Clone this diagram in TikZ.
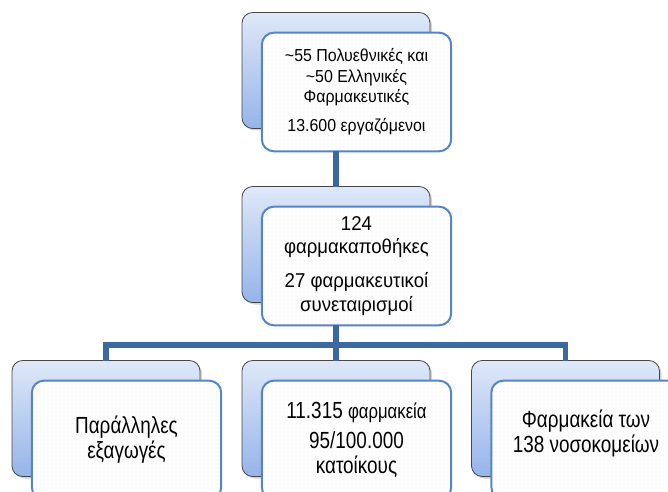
\documentclass[tikz,border=0pt]{standalone}
\usepackage{fontspec}
\setmainfont{Liberation Sans}
\newfontfamily\topfont[FakeStretch=0.92]{Liberation Sans}
\newfontfamily\midfont[FakeStretch=0.93]{Liberation Sans}
\newfontfamily\lowfont[FakeStretch=0.81]{Liberation Sans}
\usepackage{xcolor}
\definecolor{boxtop}{RGB}{222,232,248}
\definecolor{boxbottom}{RGB}{150,180,234}
\definecolor{boxedge}{RGB}{70,70,70}
\definecolor{frontedge}{RGB}{86,132,196}
\definecolor{linkblue}{RGB}{60,104,162}
\usetikzlibrary{positioning, shadows, patterns}

\begin{document}
\begin{tikzpicture}[x=0.75pt, y=-0.75pt,
  backbox/.style={rectangle, draw=boxedge, line width=0.6pt, rounded corners=8pt, top color=boxtop, bottom color=boxbottom, minimum width=141pt, minimum height=87pt, outer sep=0pt, drop shadow={shadow xshift=1.5pt, shadow yshift=-1.5pt, opacity=0.35}},
  frontbox/.style={rectangle, draw=frontedge, line width=1.5pt, rounded corners=9pt, preaction={fill=white}, pattern=dots, pattern color=black!7, minimum width=142pt, minimum height=89pt, outer sep=0pt, align=center, inner sep=2pt},
  link/.style={draw=linkblue, line width=3.8pt},
  small/.style={font=\topfont\fontsize{13}{15.4}\selectfont},
  mid/.style={font=\midfont\fontsize{15}{17.5}\selectfont},
  big/.style={font=\lowfont\fontsize{17.5}{18.75}\selectfont}
]
\useasboundingbox (0,0) rectangle (668,492);
\clip (0,0) rectangle (668,492);

% back boxes
\node[backbox] (mfgbg) at (336,70.5) {};
\node[backbox] (whsbg) at (336,244.5) {};
\node[backbox] (parbg) at (106,418.5) {};
\node[backbox] (phmbg) at (336,418.5) {};
\node[backbox] (hspbg) at (565.5,418.5) {};

% front boxes
\node[frontbox, small] (mfg) at ([shift={(20.5,21.5)}]mfgbg) {\textasciitilde55 Πολυεθνικές και\\ \textasciitilde50 Ελληνικές\\ Φαρμακευτικές\\[6pt] 13.600 εργαζόμενοι};
\node[frontbox, mid] (whs) at ([shift={(20.5,21.5)}]whsbg) {124\\ φαρμακαποθήκες\\[8pt] 27 φαρμακευτικοί\\ συνεταιρισμοί};
\node[frontbox, big] (par) at ([shift={(20.5,21.5)}]parbg) {Παράλληλες\\ εξαγωγές};
\node[frontbox, big] (phm) at ([shift={(20.5,21.5)}]phmbg) {11.315 {\fontsize{15.5}{18}\selectfont φαρμακεία}\\[4pt] 95/100.000\\ κατοίκους};
\node[frontbox, big] (hsp) at ([shift={(20.5,21.5)}]hspbg) {Φαρμακεία των\\ 138 νοσοκομείων\\[-5pt]};

% connectors
\coordinate (bus) at (336,345);
\draw[link] (mfg.south -| whsbg.north) -- (whsbg.north);
\draw[link] (whs.south -| phmbg.north) -- (phmbg.north);
\draw[link] (parbg.north) |- (bus) -| (hspbg.north);
\end{tikzpicture}
\end{document}
